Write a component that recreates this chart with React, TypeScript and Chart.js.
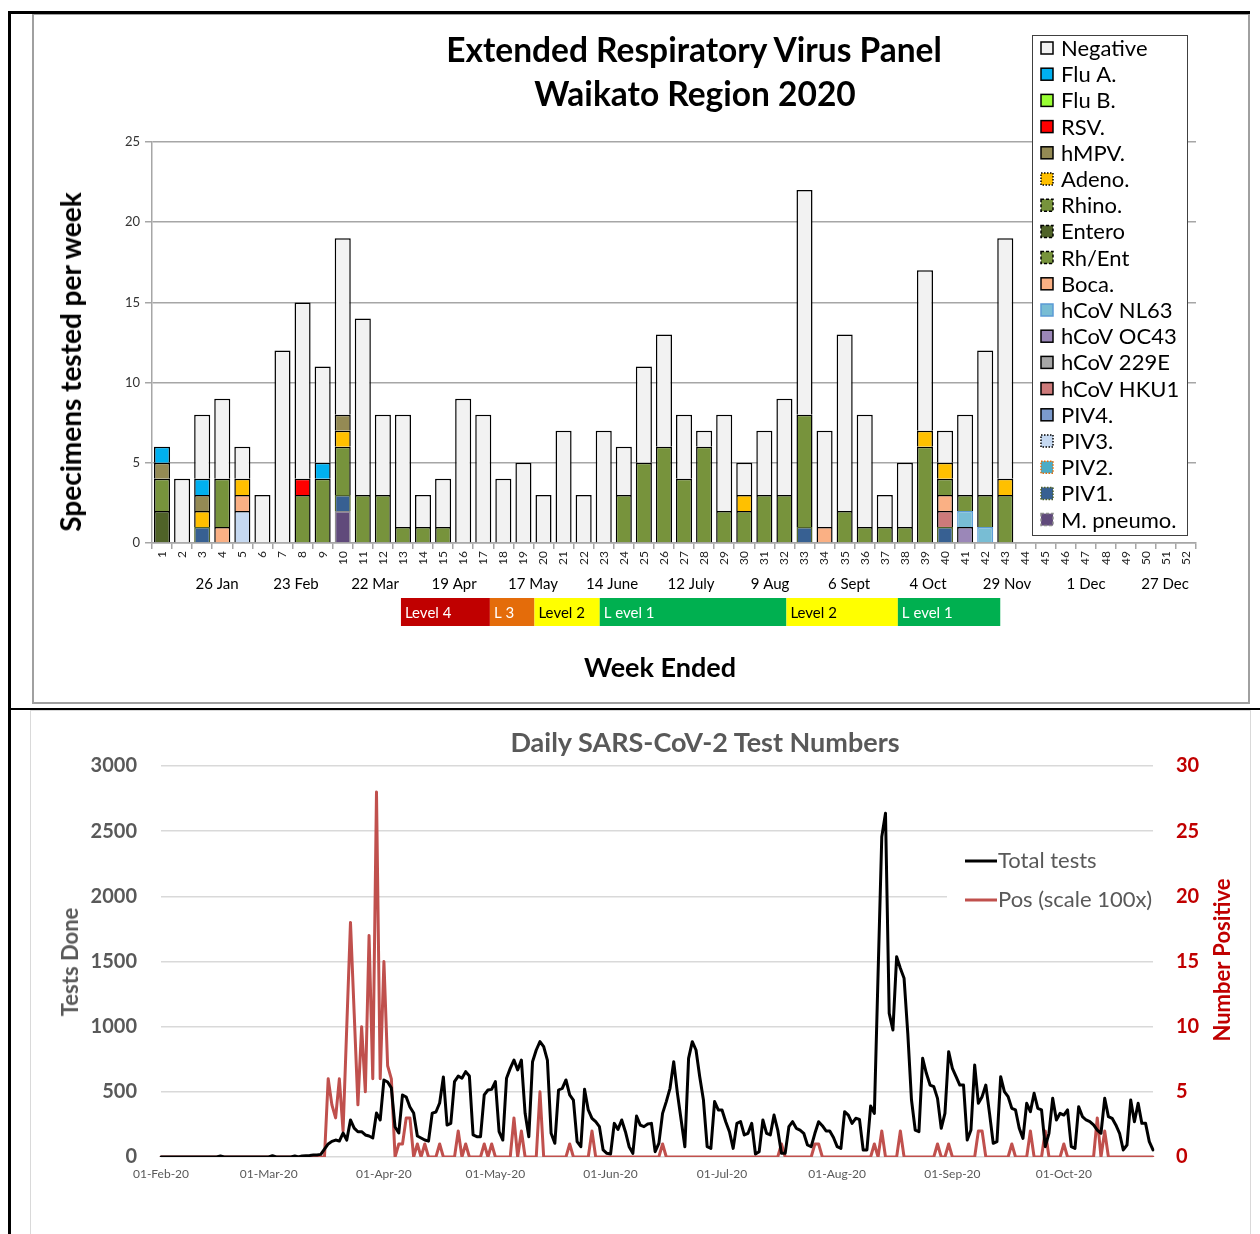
import React, { useEffect, useRef } from "react";
import { Chart, registerables } from "chart.js";
Chart.register(...registerables);
Chart.defaults.font.family = "Lato";

// ---------- Top chart data (weeks 1..52, values for weeks 1..43) ----------
const weekLabels = ["1","2","3","4","5","6","7","8","9","10","11","12","13","14","15","16","17","18","19","20","21","22","23","24","25","26","27","28","29","30","31","32","33","34","35","36","37","38","39","40","41","42","43","44","45","46","47","48","49","50","51","52"];

const negative = [0,4,4,5,2,3,12,11,6,11, 11,5,7,2,3,9,8,4,5,3, 7,3,7,3,6,7,4,1,6,2, 4,6,14,6,11,7,2,4,10,2, 5,9,15];
const fluA     = [1,0,1,0,0,0,0,0,1,0, 0,0,0,0,0,0,0,0,0,0, 0,0,0,0,0,0,0,0,0,0, 0,0,0,0,0,0,0,0,0,0, 0,0,0];
const fluB     = [0,0,0,0,0,0,0,0,0,0, 0,0,0,0,0,0,0,0,0,0, 0,0,0,0,0,0,0,0,0,0, 0,0,0,0,0,0,0,0,0,0, 0,0,0];
const rsv      = [0,0,0,0,0,0,0,1,0,0, 0,0,0,0,0,0,0,0,0,0, 0,0,0,0,0,0,0,0,0,0, 0,0,0,0,0,0,0,0,0,0, 0,0,0];
const hmpv     = [1,0,1,0,0,0,0,0,0,1, 0,0,0,0,0,0,0,0,0,0, 0,0,0,0,0,0,0,0,0,0, 0,0,0,0,0,0,0,0,0,0, 0,0,0];
const adeno    = [0,0,1,0,1,0,0,0,0,1, 0,0,0,0,0,0,0,0,0,0, 0,0,0,0,0,0,0,0,0,1, 0,0,0,0,0,0,0,0,1,1, 0,0,1];
const rhino    = [2,0,0,3,0,0,0,3,4,3, 3,3,1,1,1,0,0,0,0,0, 0,0,0,3,5,6,4,6,2,2, 3,3,7,0,2,1,1,1,6,1, 1,2,3];
const entero   = [2,0,0,0,0,0,0,0,0,0, 0,0,0,0,0,0,0,0,0,0, 0,0,0,0,0,0,0,0,0,0, 0,0,0,0,0,0,0,0,0,0, 0,0,0];
const rhEnt    = [0,0,0,0,0,0,0,0,0,0, 0,0,0,0,0,0,0,0,0,0, 0,0,0,0,0,0,0,0,0,0, 0,0,0,0,0,0,0,0,0,0, 0,0,0];
const boca     = [0,0,0,1,1,0,0,0,0,0, 0,0,0,0,0,0,0,0,0,0, 0,0,0,0,0,0,0,0,0,0, 0,0,0,1,0,0,0,0,0,1, 0,0,0];
const hcovNL63 = [0,0,0,0,0,0,0,0,0,0, 0,0,0,0,0,0,0,0,0,0, 0,0,0,0,0,0,0,0,0,0, 0,0,0,0,0,0,0,0,0,0, 1,1,0];
const hcovOC43 = [0,0,0,0,0,0,0,0,0,0, 0,0,0,0,0,0,0,0,0,0, 0,0,0,0,0,0,0,0,0,0, 0,0,0,0,0,0,0,0,0,0, 1,0,0];
const hcov229E = [0,0,0,0,0,0,0,0,0,0, 0,0,0,0,0,0,0,0,0,0, 0,0,0,0,0,0,0,0,0,0, 0,0,0,0,0,0,0,0,0,0, 0,0,0];
const hcovHKU1 = [0,0,0,0,0,0,0,0,0,0, 0,0,0,0,0,0,0,0,0,0, 0,0,0,0,0,0,0,0,0,0, 0,0,0,0,0,0,0,0,0,1, 0,0,0];
const piv4     = [0,0,0,0,0,0,0,0,0,0, 0,0,0,0,0,0,0,0,0,0, 0,0,0,0,0,0,0,0,0,0, 0,0,0,0,0,0,0,0,0,0, 0,0,0];
const piv3     = [0,0,0,0,2,0,0,0,0,0, 0,0,0,0,0,0,0,0,0,0, 0,0,0,0,0,0,0,0,0,0, 0,0,0,0,0,0,0,0,0,0, 0,0,0];
const piv2     = [0,0,0,0,0,0,0,0,0,0, 0,0,0,0,0,0,0,0,0,0, 0,0,0,0,0,0,0,0,0,0, 0,0,0,0,0,0,0,0,0,0, 0,0,0];
const piv1     = [0,0,1,0,0,0,0,0,0,1, 0,0,0,0,0,0,0,0,0,0, 0,0,0,0,0,0,0,0,0,0, 0,0,1,0,0,0,0,0,0,1, 0,0,0];
const mPneumo  = [0,0,0,0,0,0,0,0,0,2, 0,0,0,0,0,0,0,0,0,0, 0,0,0,0,0,0,0,0,0,0, 0,0,0,0,0,0,0,0,0,0, 0,0,0];

const dateLabels = ["26 Jan","23 Feb","22 Mar","19 Apr","17 May","14 June","12 July","9 Aug","6 Sept","4 Oct","29 Nov","1 Dec","27 Dec"];

const levelNames = ["Level 4","L 3","Level 2","L evel 1","Level 2","L evel 1"];
const levelStart = [12.9, 17.33, 19.55, 22.8, 32.1, 37.65];
const levelEnd   = [17.33, 19.55, 22.8, 32.1, 37.65, 42.75];

// ---------- Bottom chart data (daily from 01-Feb-20) ----------
const totalTests = [
  0,0,0,0,0,0,0,0,0,0, 0,0,0,0,0,0,8,0,0,0, 0,0,0,0,0,0,0,0,0,0,
  10,0,0,0,0,0,8,0,8,10, 12,15,15,20,60,100,120,130,122,184,
  130,284,222,194,194,169,161,146,337,284,
  591,575,530,230,184,476,460,384,337,161,
  146,130,122,337,345,414,614,245,258,578,
  621,604,655,621,169,156,156,476,514,519,
  578,194,130,604,680,744,668,744,335,156,
  731,821,885,847,744,182,105,514,527,591,
  476,437,118,79,519,361,297,271,233,54,
  28,23,258,212,284,194,79,28,315,245,
  233,253,258,41,105,335,425,527,731,488,
  284,79,757,885,821,616,437,79,66,425,
  361,361,271,194,66,258,271,169,182,258,
  23,41,284,182,169,322,207,28,28,233,
  271,220,207,182,92,79,182,271,240,200,
  200,150,80,66,348,322,258,297,289,54,
  54,391,335,1400,2458,2637,1102,975,1537,1448,
  1371,949,437,207,194,757,642,552,540,450,
  220,335,808,680,616,552,552,130,207,706,
  412,463,552,335,105,118,616,501,463,373,
  361,220,143,412,348,489,373,361,79,182,
  450,284,335,322,361,79,66,386,310,284,
  271,246,207,182,450,310,297,246,182,54,
  92,437,271,412,258,258,118,54
];
const positives = [
  0,0,0,0,0,0,0,0,0,0, 0,0,0,0,0,0,0,0,0,0, 0,0,0,0,0,0,0,0,0,0,
  0,0,0,0,0,0,0,0,0,0, 0,0,0,0,0,6,4,3,6,2,
  10,18,11,4,10,5,17,6,28,6,
  15,7,6,0,1,1,3,3,0,1,
  0,1,0,0,0,1,0,0,0,0,
  2,0,1,0,0,0,0,1,0,1,
  0,0,0,0,0,3,0,2,0,0,
  0,0,5,0,0,0,0,0,0,0,
  1,0,0,0,0,0,2,0,0,0,
  0,0,0,0,0,0,0,0,0,0,
  0,0,0,0,0,1,0,0,0,0,
  0,0,0,0,0,0,0,0,0,0,
  0,0,0,0,0,0,0,0,0,0,
  0,0,0,0,0,0,0,1,0,0,
  0,0,0,0,0,0,1,1,0,0,
  0,0,0,0,0,0,0,0,0,0,
  0,0,1,0,2,0,0,0,0,2,
  0,0,0,0,0,0,0,0,0,1,
  0,0,1,0,0,0,0,0,0,0,
  2,2,0,0,0,0,0,0,0,1,
  0,0,0,0,2,0,0,0,2,0,
  0,0,0,1,0,0,0,0,0,0,
  0,0,3,0,2,0,0,0,0,0,
  0,0,0,0,0,0,0,0
];
const MONTHS = ["Jan","Feb","Mar","Apr","May","Jun","Jul","Aug","Sep","Oct","Nov","Dec"];
const dayLabels = totalTests.map((_, i) => {
  const d = new Date(Date.UTC(2020, 1, 1 + i));
  return String(d.getUTCDate()).padStart(2, "0") + "-" + MONTHS[d.getUTCMonth()] + "-20";
});

// ---------- styles ----------
const seriesDefs = [
  { label: "Negative", data: negative, color: "#f2f2f2" },
  { label: "Flu A.", data: fluA, color: "#00b0f0" },
  { label: "Flu B.", data: fluB, color: "#99ff33" },
  { label: "RSV.", data: rsv, color: "#ff0000" },
  { label: "hMPV.", data: hmpv, color: "#948a54" },
  { label: "Adeno.", data: adeno, color: "#ffc000", dash: [1.5, 1.5] },
  { label: "Rhino.", data: rhino, color: "#77933c", dash: [3, 2] },
  { label: "Entero", data: entero, color: "#4f6228", dash: [3, 2] },
  { label: "Rh/Ent", data: rhEnt, color: "#77933c", dash: [3, 2] },
  { label: "Boca.", data: boca, color: "#fab084" },
  { label: "hCoV NL63", data: hcovNL63, color: "#78bdd4", border: "#5b9bd5" },
  { label: "hCoV OC43", data: hcovOC43, color: "#9b87b8" },
  { label: "hCoV 229E", data: hcov229E, color: "#a6a6a6" },
  { label: "hCoV HKU1", data: hcovHKU1, color: "#cd7a7a" },
  { label: "PIV4.", data: piv4, color: "#7b9acc" },
  { label: "PIV3.", data: piv3, color: "#c6d9f1", dash: [1.5, 1.5] },
  { label: "PIV2.", data: piv2, color: "#4bacc6", dash: [1.5, 1.5], border: "#e46c0a" },
  { label: "PIV1.", data: piv1, color: "#376092", dash: [1.5, 1.5], border: "#4f6228" },
  { label: "M. pneumo.", data: mPneumo, color: "#604a7b", dash: [3, 2], border: "#8c8c8c" },
];
const levelColors = ["#c00000", "#e46c0a", "#ffff00", "#00b050", "#ffff00", "#00b050"];
const levelTextColors = ["#fff", "#fff", "#000", "#fff", "#000", "#fff"];

const topExtras = {
  id: "topExtras",
  afterDraw(chart: any) {
    const ctx = chart.ctx;
    const xs = chart.scales.x;
    const cw = xs.getPixelForValue(1) - xs.getPixelForValue(0);
    const wx = (n: number) => xs.getPixelForValue(0) + (n - 1) * cw;
    ctx.save();
    ctx.font = "15px Lato";
    ctx.fillStyle = "#000";
    ctx.textAlign = "center";
    ctx.textBaseline = "middle";
    dateLabels.forEach((t, i) => ctx.fillText(t, wx(3.74 + i * 3.935), 584));
    levelNames.forEach((name, i) => {
      const x0 = wx(levelStart[i]);
      const x1 = wx(levelEnd[i]);
      ctx.fillStyle = levelColors[i];
      ctx.fillRect(x0, 598, x1 - x0, 28);
      ctx.fillStyle = levelTextColors[i];
      ctx.textAlign = "left";
      ctx.fillText(name, x0 + 4, 613);
    });
    // legend
    const ds = [...chart.data.datasets].reverse();
    ctx.fillStyle = "#fff";
    ctx.fillRect(1032, 35, 155, 500);
    ctx.strokeStyle = "#404040";
    ctx.lineWidth = 1;
    ctx.strokeRect(1032.5, 35.5, 155, 500);
    ds.forEach((d: any, i: number) => {
      const cy = 48 + i * 26.2;
      ctx.fillStyle = d.backgroundColor;
      ctx.fillRect(1041, cy - 6, 12, 12);
      ctx.setLineDash(d.legendDash || []);
      ctx.strokeStyle = d.legendBorder || "#000";
      ctx.lineWidth = 1.5;
      ctx.strokeRect(1041, cy - 6, 12, 12);
      ctx.setLineDash([]);
      ctx.fillStyle = "#000";
      ctx.font = "22px Lato";
      ctx.textAlign = "left";
      ctx.textBaseline = "middle";
      ctx.fillText(d.label, 1061, cy + 1);
    });
    ctx.restore();
  },
};

const bottomExtras = {
  id: "bottomExtras",
  afterDraw(chart: any) {
    const ctx = chart.ctx;
    ctx.save();
    ctx.fillStyle = "#fff";
    ctx.fillRect(947, 132, 206, 76);
    chart.data.datasets.forEach((d: any, i: number) => {
      const y = 151 + i * 39;
      ctx.strokeStyle = d.borderColor;
      ctx.lineWidth = 3;
      ctx.beginPath();
      ctx.moveTo(965, y);
      ctx.lineTo(997, y);
      ctx.stroke();
      ctx.fillStyle = "#595959";
      ctx.font = "22px Lato";
      ctx.textAlign = "left";
      ctx.textBaseline = "middle";
      ctx.fillText(d.label, 998, y);
    });
    ctx.restore();
  },
};

function TopChart() {
  const ref = useRef<HTMLCanvasElement>(null);
  useEffect(() => {
    const datasets = [...seriesDefs].reverse().map((s) => ({
      label: s.label,
      data: s.data.map((v) => (v === 0 ? null : v)),
      backgroundColor: s.color,
      borderColor: s.border || "#000",
      borderWidth: 1.5,
      barPercentage: 0.8,
      categoryPercentage: 1.0,
      legendDash: s.dash,
      legendBorder: s.border,
    }));
    const chart = new Chart(ref.current!, {
      type: "bar",
      data: { labels: weekLabels, datasets: datasets as any },
      options: {
        responsive: false,
        animation: false,
        layout: { padding: { left: 0, right: 64, top: 142, bottom: 0 } },
        plugins: { legend: { display: false }, tooltip: { enabled: false } },
        scales: {
          x: {
            stacked: true,
            grid: { drawOnChartArea: false, drawTicks: true, tickLength: 6, color: "#a6a6a6", lineWidth: 1.5 },
            border: { display: true, color: "#a6a6a6", width: 1.5 },
            ticks: { minRotation: 90, maxRotation: 90, autoSkip: false, font: { size: 12 }, color: "#222", padding: 2 },
            afterFit: (s: any) => { s.height = 163; },
          },
          y: {
            stacked: true,
            min: 0,
            max: 25,
            ticks: { stepSize: 5, font: { size: 13 }, color: "#333", padding: 5 },
            grid: { color: "#a6a6a6", lineWidth: 1.5, tickLength: 7 },
            border: { display: true, color: "#a6a6a6", width: 1.5 },
            afterFit: (s: any) => { s.width = 152; },
          },
        },
      },
      plugins: [topExtras],
    });
    return () => chart.destroy();
  }, []);
  return <canvas ref={ref} width={1260} height={706} style={{ position: "absolute", left: 0, top: 0, width: 1260, height: 706 }} />;
}

function BottomChart() {
  const ref = useRef<HTMLCanvasElement>(null);
  useEffect(() => {
    const chart = new Chart(ref.current!, {
      type: "line",
      data: {
        labels: dayLabels,
        datasets: [
          { label: "Total tests", data: totalTests, borderColor: "#000", borderWidth: 3, pointRadius: 0, tension: 0, yAxisID: "y", borderJoinStyle: "round", borderCapStyle: "round" },
          { label: "Pos (scale 100x)", data: positives, borderColor: "#c0504d", borderWidth: 3, pointRadius: 0, tension: 0, yAxisID: "y1", borderJoinStyle: "round", borderCapStyle: "round" },
        ],
      },
      options: {
        responsive: false,
        animation: false,
        layout: { padding: { left: 0, right: 0, top: 56, bottom: 0 } },
        plugins: { legend: { display: false }, tooltip: { enabled: false } },
        scales: {
          x: {
            grid: { display: false, drawTicks: false },
            border: { display: false },
            ticks: {
              autoSkip: false,
              maxRotation: 0,
              minRotation: 0,
              padding: 10,
              font: { size: 12 },
              color: "#595959",
              callback: (_v: any, i: number) => (dayLabels[i].startsWith("01-") ? dayLabels[i] : ""),
            },
            afterFit: (s: any) => { s.height = 77; },
          },
          y: {
            position: "left",
            min: 0,
            max: 3000,
            ticks: { stepSize: 500, font: { size: 20, weight: "bold" }, color: "#595959", padding: 24, callback: (v: any) => String(v) },
            grid: { color: "#d9d9d9", lineWidth: 1.5, drawTicks: false },
            border: { display: false },
            afterFit: (s: any) => { s.width = 161; },
          },
          y1: {
            position: "right",
            min: 0,
            max: 30,
            ticks: { stepSize: 5, font: { size: 20, weight: "bold" }, color: "#c00000", padding: 23, callback: (v: any) => String(v) },
            grid: { display: false, drawTicks: false },
            border: { display: false },
            afterFit: (s: any) => { s.width = 107; },
          },
        },
      },
      plugins: [bottomExtras],
    });
    return () => chart.destroy();
  }, []);
  return <canvas ref={ref} width={1260} height={524} style={{ position: "absolute", left: 0, top: 710, width: 1260, height: 524 }} />;
}

const T = (p: { x: number; y: number; size: number; color?: string; rot?: boolean; children: any }) => (
  <div
    style={{
      position: "absolute",
      left: p.x,
      top: p.y,
      transform: "translate(-50%, -50%)" + (p.rot ? " rotate(-90deg)" : ""),
      fontFamily: "Lato",
      fontWeight: 700,
      fontSize: p.size,
      color: p.color || "#000",
      whiteSpace: "nowrap",
      lineHeight: 1,
    }}
  >
    {p.children}
  </div>
);

export default function App() {
  return (
    <div style={{ position: "absolute", left: 0, top: 0, width: 1260, height: 1234, overflow: "hidden", background: "#fff" }}>
      <TopChart />
      <BottomChart />
      <T x={694} y={50} size={33.5}>Extended Respiratory Virus Panel</T>
      <T x={695} y={94} size={33.5}>Waikato Region 2020</T>
      <T x={70} y={362} size={28} rot>Specimens tested per week</T>
      <T x={660} y={666} size={27}>Week Ended</T>
      <T x={705} y={741} size={27} color="#595959">Daily SARS-CoV-2 Test Numbers</T>
      <T x={70} y={962} size={22} color="#595959" rot>Tests Done</T>
      <T x={1222} y={960} size={22} color="#c00000" rot>Number Positive</T>
      {/* frames */}
      <div style={{ position: "absolute", left: 32, top: 13, width: 1218, height: 691, border: "2px solid #a0a0a0", boxSizing: "border-box" }} />
      <div style={{ position: "absolute", left: 30, top: 710, width: 1221, height: 530, border: "1.5px solid #d9d9d9", boxSizing: "border-box" }} />
      <div style={{ position: "absolute", left: 8, top: 11, width: 2.5, height: 1223, background: "#000" }} />
      <div style={{ position: "absolute", left: 8, top: 11, width: 1242, height: 2.5, background: "#000" }} />
      <div style={{ position: "absolute", left: 8, top: 707.5, width: 1252, height: 2.5, background: "#000" }} />
    </div>
  );
}
